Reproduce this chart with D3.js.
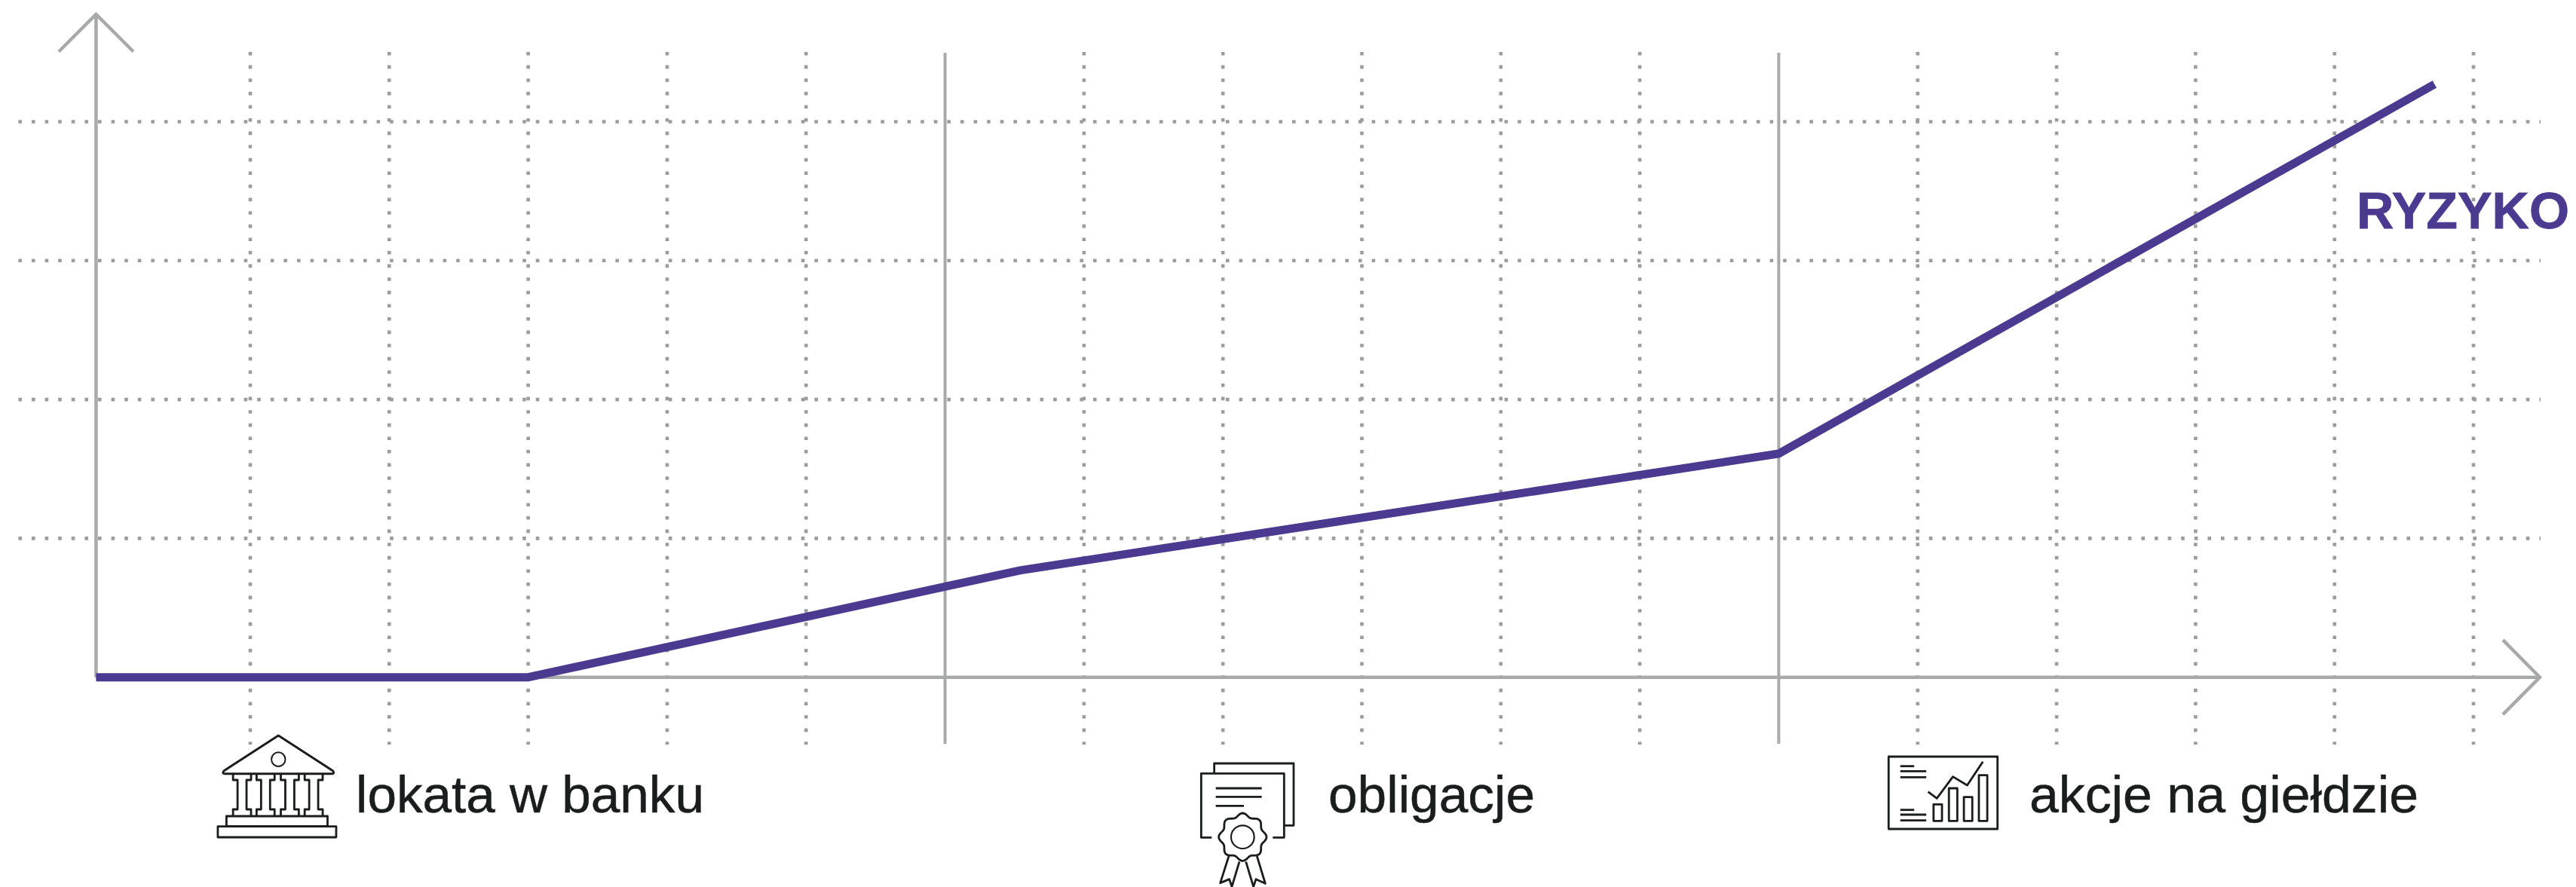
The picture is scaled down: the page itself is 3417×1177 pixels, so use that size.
<!DOCTYPE html>
<html><head><meta charset="utf-8">
<script src="https://cdn.jsdelivr.net/npm/d3@7"></script>
<style>html,body{margin:0;padding:0;background:#fff;overflow:hidden}svg{display:block}text{font-family:"Liberation Sans",Arial,sans-serif}</style>
</head><body><div id="c"></div>
<script>
// Data, in grid units (one unit = one dotted-grid step)
const riskX = [-0.11, 3, 6.54, 12, 16.72];
const riskY = [0, 0, 0.77, 1.61, 4.27];
const dottedX = [1,2,3,4,5,7,8,9,10,11,13,14,15,16,17];
const solidX = [6,12];
const dottedY = [1,2,3,4];
const seriesLabel = "RYZYKO";
const categories = ["lokata w banku","obligacje","akcje na giełdzie"];

const W=3417,H=1177,GRID="#9b9d9d",AXIS="#a8aaaa",INK="#1a1d1d",RISK="#4c3a90";
const x=d3.scaleLinear().domain([0,17]).range([147.7,3281]);
const y=d3.scaleLinear().domain([0,4]).range([898.7,161.5]);
const svg=d3.select("#c").append("svg").attr("width",W).attr("height",H).attr("viewBox",`0 0 ${W} ${H}`);
svg.append("rect").attr("width",W).attr("height",H).attr("fill","#fff");

// dotted grid
const dash="4.6 13";
svg.append("g").selectAll("line").data(dottedY).join("line")
 .attr("x1",24.4).attr("x2",3370).attr("y1",d=>y(d)).attr("y2",d=>y(d))
 .attr("stroke",GRID).attr("stroke-width",4.6).attr("stroke-dasharray",dash);
svg.append("g").selectAll("line").data(dottedX).join("line")
 .attr("x1",d=>x(d)).attr("x2",d=>x(d)).attr("y1",69).attr("y2",988)
 .attr("stroke",GRID).attr("stroke-width",4.6).attr("stroke-dasharray",dash);
// solid separators
svg.append("g").selectAll("line").data(solidX).join("line")
 .attr("x1",d=>x(d)).attr("x2",d=>x(d)).attr("y1",70).attr("y2",987)
 .attr("stroke",AXIS).attr("stroke-width",4);
// axes with arrow heads
const ax=x(-0.11), ay=y(0);
const axes=svg.append("g").attr("fill","none").attr("stroke",AXIS).attr("stroke-width",4.5);
axes.append("path").attr("d",`M${ax},${ay}V20`);
axes.append("path").attr("d",`M${ax-49.5},68.5L${ax},19L${ax+49.5},68.5`);
axes.append("path").attr("d",`M${ax},${ay}H3366`);
axes.append("path").attr("d",`M3320,${ay-49.5}L3369,${ay}L3320,${ay+49.5}`);

// risk line
svg.append("path").datum(riskX.map((v,i)=>[v,riskY[i]]))
 .attr("d",d3.line().x(d=>x(d[0])).y(d=>y(d[1])))
 .attr("fill","none").attr("stroke",RISK).attr("stroke-width",11).attr("stroke-linejoin","miter");

svg.append("text").text(seriesLabel).attr("x",3126).attr("y",303)
 .attr("font-size",69).attr("font-weight",700).attr("fill",RISK)
 .attr("stroke",RISK).attr("stroke-width",0.8)
 .attr("textLength",282).attr("lengthAdjust","spacingAndGlyphs");

// category labels
const labelPos=[[472,462],[1762,274],[2692,516]];
svg.append("g").selectAll("text").data(categories).join("text").text(d=>d)
 .attr("x",(d,i)=>labelPos[i][0]).attr("y",1078)
 .attr("textLength",(d,i)=>labelPos[i][1]).attr("lengthAdjust","spacingAndGlyphs")
 .attr("font-size",69).attr("fill",INK).attr("stroke",INK).attr("stroke-width",0.5);

// icons
function icon(tx,ty,sx,sy){return svg.append("g").attr("transform",`translate(${tx},${ty}) scale(${1/sx},${1/sy})`)
 .attr("fill","none");}
function st(sel,w){return sel.attr("stroke",INK).attr("stroke-width",w||2.8).attr("vector-effect","non-scaling-stroke").attr("stroke-linejoin","round");}
const bank=icon(260,950,2.178,3);
st(bank.append("path").attr("d","M238,78L395,218Q402,230 392,230H84Q74,230 81,218Z"),3);
[107,175,245,314].forEach(c=>{
 st(bank.append("path").attr("d",`M${c},232V255H${c+13}V372H${c}V398M${c+52},398V372H${c+39}V255H${c+52}V232`));
});
st(bank.append("ellipse").attr("cx",238).attr("cy",173).attr("rx",20).attr("ry",28),2);
st(bank.append("rect").attr("x",88).attr("y",399).attr("width",292).attr("height",40));
st(bank.append("rect").attr("x",63).attr("y",440).attr("width",342).attr("height",43));

const cert=icon(1560,980,3,3);
st(cert.append("path").attr("d","M152,138V99H468V346H432"));
st(cert.append("path").attr("d","M142,394H100V139H430V394H385"));
[[158,341,198],[158,341,232],[158,270,268]].forEach(l=>st(cert.append("path").attr("d",`M${l[0]},${l[2]}H${l[1]}`)));
const rosette=d3.range(0,361,3).map(a=>{const t=a*Math.PI/180,r=88+7*Math.cos(8*t);return [265+r*Math.sin(t),392-r*Math.cos(t)];});
st(cert.append("path").attr("d",d3.line()(rosette)+"Z"));
st(cert.append("circle").attr("cx",265).attr("cy",392).attr("r",46),2.2);
st(cert.append("path").attr("d","M210,468L176,575L212,560L222,590L252,490"));
st(cert.append("path").attr("d","M278,490L308,590L318,560L355,577L322,468"));

const chart=icon(2480,980,2.063,3);
st(chart.append("rect").attr("x",52).attr("y",72).attr("width",298).attr("height",288));
[[84,122,110],[84,155,130],[84,155,154],[84,122,284],[84,155,303],[84,155,326]].forEach(l=>st(chart.append("path").attr("d",`M${l[0]},${l[2]}H${l[1]}`)));
[[175,262],[217,198],[258,233],[299,146]].forEach(b=>st(chart.append("rect").attr("x",b[0]).attr("y",b[1]).attr("width",23).attr("height",328-b[1])));
st(chart.append("path").attr("d","M160,212L184,238L228,152L267,186L310,92"));
</script></body></html>
